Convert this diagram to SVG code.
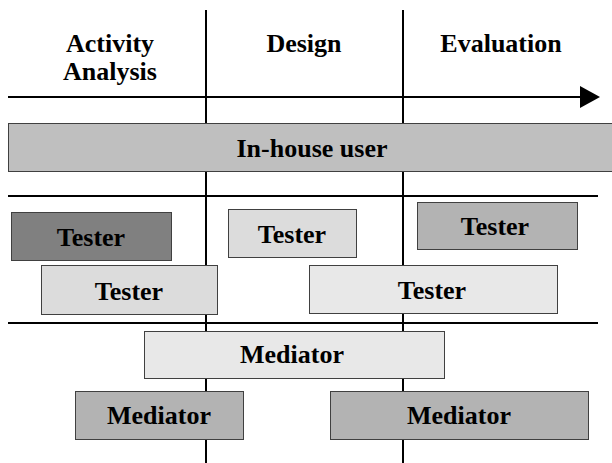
<svg xmlns="http://www.w3.org/2000/svg" width="612" height="463" viewBox="0 0 612 463">
<style>
.ln{stroke:#000;stroke-width:2;fill:none}
.bx{stroke:#404040;stroke-width:1}
.t{font-family:"Liberation Serif","Times New Roman",serif;font-weight:bold;font-size:26px;text-anchor:middle;fill:#000}
</style>
<rect width="612" height="463" fill="#fff"/>
<g id="connectors">
<line class="ln" x1="206" y1="10" x2="206" y2="463"/>
<line class="ln" x1="403" y1="10" x2="403" y2="463"/>
<line class="ln" x1="8" y1="97" x2="582" y2="97"/>
<path d="M580,86 L600,97 L580,108 Z" fill="#000"/>
<line class="ln" x1="8" y1="196" x2="598" y2="196"/>
<line class="ln" x1="8" y1="323" x2="598" y2="323"/>
</g>
<g id="hdr-activity"><text class="t" x="110" y="52">Activity</text><text class="t" x="110" y="80">Analysis</text></g>
<g id="hdr-design"><text class="t" x="304" y="52">Design</text></g>
<g id="hdr-evaluation"><text class="t" x="501" y="52">Evaluation</text></g>
<g id="inhouse"><rect class="bx" x="8.5" y="123.5" width="605" height="48" fill="#bfbfbf"/><text class="t" x="312" y="157">In-house user</text></g>
<g id="tester1"><rect class="bx" x="11.5" y="212.5" width="160" height="48" fill="#808080"/><text class="t" x="91" y="246">Tester</text></g>
<g id="tester2"><rect class="bx" x="228.5" y="209.5" width="128" height="48" fill="#dcdcdc"/><text class="t" x="292" y="243">Tester</text></g>
<g id="tester3"><rect class="bx" x="417.5" y="202.5" width="160" height="47" fill="#b3b3b3"/><text class="t" x="495" y="235">Tester</text></g>
<g id="tester4"><rect class="bx" x="41.5" y="265.5" width="176" height="49" fill="#dcdcdc"/><text class="t" x="129" y="300">Tester</text></g>
<g id="tester5"><rect class="bx" x="309.5" y="265.5" width="248" height="48" fill="#e8e8e8"/><text class="t" x="432" y="299">Tester</text></g>
<g id="mediator1"><rect class="bx" x="144.5" y="331.5" width="300" height="47" fill="#e8e8e8"/><text class="t" x="292" y="363">Mediator</text></g>
<g id="mediator2"><rect class="bx" x="75.5" y="391.5" width="168" height="48" fill="#b3b3b3"/><text class="t" x="159" y="424">Mediator</text></g>
<g id="mediator3"><rect class="bx" x="330.5" y="391.5" width="258" height="48" fill="#b3b3b3"/><text class="t" x="459" y="424">Mediator</text></g>
</svg>
